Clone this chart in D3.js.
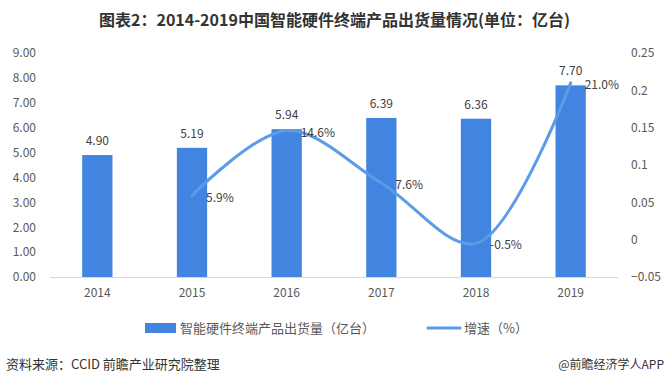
<!DOCTYPE html>
<html>
<head>
<meta charset="utf-8">
<script src="https://cdn.jsdelivr.net/npm/d3@7"></script>
<style>
  body { margin: 0; background: #fff; }
  text { font-family: "Noto Sans CJK SC", "Noto Sans", sans-serif; }
</style>
</head>
<body>
<div id="chart"></div>
<script>
// data
var years = ["2014", "2015", "2016", "2017", "2018", "2019"]
var shipments = [4.90, 5.19, 5.94, 6.39, 6.36, 7.70]
var growthYears = ["2015", "2016", "2017", "2018", "2019"]
var growth = [0.059, 0.146, 0.076, -0.005, 0.210]
var leftTicks = [0, 1, 2, 3, 4, 5, 6, 7, 8, 9]
var rightTicks = [-0.05, 0, 0.05, 0.1, 0.15, 0.2, 0.25]

var width = 669, height = 390
var barColor = "#4285e0", lineColor = "#5b9be8", textColor = "#595959"

var svg = d3.select("#chart").append("svg")
    .attr("width", width)
    .attr("height", height)

svg.append("rect").attr("width", width).attr("height", height).attr("fill", "#fff")

// title
svg.append("text")
    .attr("x", width / 2).attr("y", 26)
    .attr("text-anchor", "middle")
    .attr("font-size", 16).attr("font-weight", "bold")
    .attr("fill", "#333")
    .text("图表2：2014-2019中国智能硬件终端产品出货量情况(单位：亿台)")

var x = d3.scaleBand().domain(years).range([50, 618]).paddingInner(0.68).paddingOuter(0.34)
var y = d3.scaleLinear().domain([0, 9]).range([277, 53])
var y2 = d3.scaleLinear().domain([-0.05, 0.25]).range([277, 53])

// left axis
var ga = svg.append("g").attr("transform", "translate(39,0)")
  .call(d3.axisLeft(y).tickValues(leftTicks).tickFormat(d3.format(".2f")).tickSize(0))
ga.select(".domain").remove()
ga.selectAll("text").attr("font-size", 12).attr("fill", textColor).attr("font-family", "Noto Sans, sans-serif")

// right axis
var gb = svg.append("g").attr("transform", "translate(628,0)")
  .call(d3.axisRight(y2).tickValues(rightTicks).tickFormat(d => d3.format("")(+d.toFixed(2))).tickSize(0))
gb.select(".domain").remove()
gb.selectAll("text").attr("font-size", 12).attr("fill", textColor).attr("font-family", "Noto Sans, sans-serif")

// baseline
svg.append("line")
    .attr("x1", 50).attr("x2", 618)
    .attr("y1", y(0) + 0.5).attr("y2", y(0) + 0.5)
    .attr("stroke", "#d9d9d9")

// bottom axis labels
var gx = svg.append("g").attr("transform", "translate(0," + (y(0) + 8) + ")")
  .call(d3.axisBottom(x).tickSize(0))
gx.select(".domain").remove()
gx.selectAll("text").attr("font-size", 12).attr("fill", textColor).attr("font-family", "Noto Sans, sans-serif")

// bars
svg.selectAll("rect.bar")
  .data(shipments)
  .join("rect")
    .attr("class", "bar")
    .attr("x", (d, i) => x(years[i]))
    .attr("width", x.bandwidth())
    .attr("y", d => y(d))
    .attr("height", d => y(0) - y(d))
    .attr("fill", barColor)

svg.selectAll("text.barlabel")
  .data(shipments)
  .join("text")
    .attr("class", "barlabel")
    .attr("x", (d, i) => x(years[i]) + x.bandwidth() / 2)
    .attr("y", d => y(d) - 10)
    .attr("text-anchor", "middle")
    .attr("font-size", 12).attr("fill", "#404040")
    .attr("font-family", "Noto Sans, sans-serif")
    .text(d => d.toFixed(2))

// growth line
var line = d3.line()
    .x((d, i) => x(growthYears[i]) + x.bandwidth() / 2)
    .y(d => y2(d))
    .curve(d3.curveCatmullRom.alpha(0.5))

svg.append("path")
    .datum(growth)
    .attr("d", line)
    .attr("fill", "none")
    .attr("stroke", lineColor)
    .attr("stroke-width", 3)
    .attr("stroke-linecap", "round")

svg.selectAll("text.linelabel")
  .data(growth)
  .join("text")
    .attr("class", "linelabel")
    .attr("x", (d, i) => x(growthYears[i]) + x.bandwidth() / 2 + 14)
    .attr("y", d => y2(d) + 6)
    .attr("font-size", 12).attr("fill", "#404040")
    .attr("font-family", "Noto Sans, sans-serif")
    .text(d => (d * 100).toFixed(1) + "%")

// legend
var lg = svg.append("g").attr("transform", "translate(0,328)")
lg.append("rect").attr("x", 145).attr("y", -5).attr("width", 31).attr("height", 10).attr("fill", barColor)
lg.append("text").attr("x", 180).attr("y", 5).attr("font-size", 13).attr("fill", textColor)
    .text("智能硬件终端产品出货量（亿台）")
lg.append("line").attr("x1", 428).attr("x2", 460).attr("y1", 0).attr("y2", 0)
    .attr("stroke", lineColor).attr("stroke-width", 3).attr("stroke-linecap", "round")
lg.append("text").attr("x", 464).attr("y", 5).attr("font-size", 13).attr("fill", textColor)
    .text("增速（%）")

// footer
svg.append("text").attr("x", 6).attr("y", 369).attr("font-size", 13).attr("fill", "#333")
    .text("资料来源：CCID 前瞻产业研究院整理")
svg.append("text").attr("x", 664).attr("y", 369).attr("text-anchor", "end").attr("font-size", 12).attr("fill", "#333")
    .text("@前瞻经济学人APP")
</script>
</body>
</html>
